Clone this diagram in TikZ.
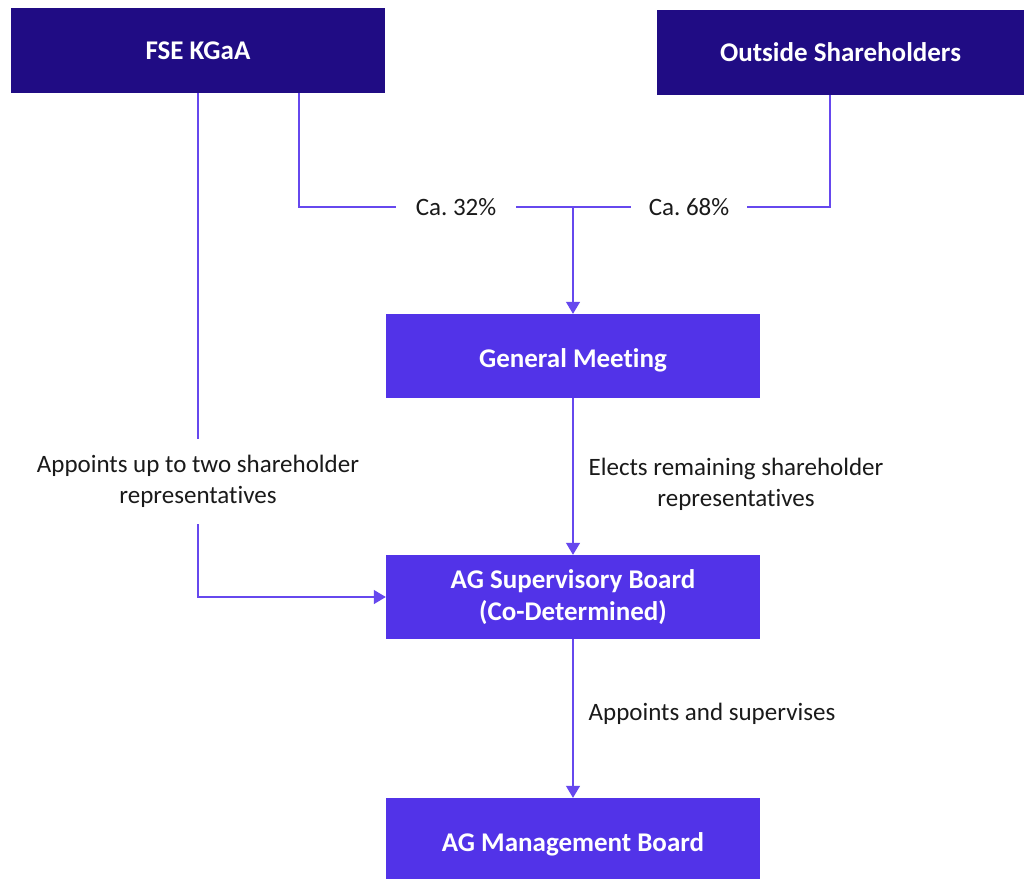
\documentclass[tikz,border=0pt]{standalone}
\usepackage{fontspec}
\setmainfont{Carlito}[Ligatures=NoCommon]
\usetikzlibrary{arrows.meta}
\definecolor{navy}{HTML}{200C84}
\definecolor{violet}{HTML}{5233E8}
\definecolor{linec}{HTML}{6648EE}
\definecolor{txt}{HTML}{1A1A1A}
\tikzset{
  topbox/.style={fill=navy, text=white, font=\bfseries\fontsize{27}{32}\selectfont, inner sep=0pt, align=center},
  midbox/.style={fill=violet, text=white, font=\bfseries\fontsize{27}{32}\selectfont, inner sep=0pt, align=center, minimum width=374pt, minimum height=84pt},
  conn/.style={draw=linec, line width=1.3pt},
  arr/.style={conn, -{Triangle[width=14pt,length=12pt]}},
  lbl/.style={text=txt, font=\fontsize{25}{31}\selectfont, align=center},
  gaplbl/.style={lbl, fill=white, inner xsep=20pt, inner ysep=4pt}
}
\begin{document}
\begin{tikzpicture}[x=1pt,y=-1pt]
\useasboundingbox[fill=white] (0,0) rectangle (1024,879);
\node[topbox, minimum width=374pt, minimum height=85pt] (fse) at (198,50.5) {FSE KGaA};
\node[topbox, minimum width=367pt, minimum height=85pt] (out) at (840.5,52.5) {Outside Shareholders};
\node[midbox, text height=24pt, text depth=0.5pt] (gm) at (573,356) {General Meeting};
\node[midbox] (sb) at (573,597) {AG Supervisory Board\\(Co-Determined)};
\node[midbox, minimum height=81pt, text height=26pt, text depth=0.5pt] (mb) at (573,838.5) {AG Management Board};
\coordinate (j) at (573,207);
\coordinate (p32) at (299,207);
\coordinate (p68) at (830,207);
\draw[conn] (fse.south -| p32) |- (j);
\draw[conn] (out.south -| p68) |- (j);
\draw[arr] (j) -- (gm.north);
\draw[arr] (fse.south) |- (sb.west);
\draw[arr] (gm.south) -- (sb.north);
\draw[arr] (sb.south) -- (mb.north);
\node[gaplbl] (l32) at (456,207) {Ca.~32\%};
\node[gaplbl, inner xsep=18pt] (l68) at (689,207) {Ca.~68\%};
\node[lbl, fill=white, inner xsep=4pt, inner ysep=16pt] (lapp) at (198,481.5) {Appoints up to two shareholder\\representatives};
\node[lbl] (lel) at (736,484.5) {Elects remaining shareholder\\representatives};
\node[lbl] (lsup) at (712,714) {Appoints and supervises};
\end{tikzpicture}
\end{document}
